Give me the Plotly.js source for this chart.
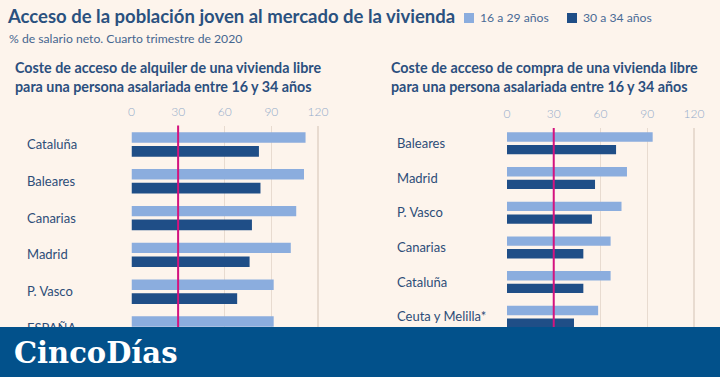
<!DOCTYPE html>
<html>
<head>
<meta charset="utf-8">
<script src="https://cdn.plot.ly/plotly-3.0.1.min.js"></script>
<style>
html,body{margin:0;padding:0;background:#fdf4ec;}
#chart{width:720px;height:377px;}
</style>
</head>
<body>
<div id="chart"></div>
<script>
// ---- Data ----
const seriesNames = ['16 a 29 años', '30 a 34 años'];
const tickVals = [0, 30, 60, 90, 120];
const refLine = 30;

const catsAlquiler = ['Cataluña', 'Baleares', 'Canarias', 'Madrid', 'P. Vasco', 'ESPAÑA'];
const alquiler1629 = [112, 111, 106, 102.5, 91.5, 91.5];
const alquiler3034 = [82, 83, 77.5, 76, 68, null];

const catsCompra = ['Baleares', 'Madrid', 'P. Vasco', 'Canarias', 'Cataluña', 'Ceuta y Melilla*'];
const compra1629 = [93.5, 77, 73.5, 66.5, 66.5, 58.5];
const compra3034 = [70, 56.5, 54.5, 49, 49, 43];

// ---- Styles ----
const W = 720, H = 377;
const cLight = '#8badde', cDark = '#1f4e87', cRef = '#d4137f';
const seriesColors = [cLight, cDark];
const bg = '#fdf4ec', grid = '#e8dbd0';
const fontFam = 'Lato, "Open Sans", sans-serif';
const px = v => v / W, py = v => 1 - v / H;

const traces = [
  {type:'bar', orientation:'h', name:seriesNames[0], y:catsAlquiler, x:alquiler1629, xaxis:'x', yaxis:'y',
   marker:{color:cLight}, offset:-0.3315, width:0.283, showlegend:false, hoverinfo:'x+y'},
  {type:'bar', orientation:'h', name:seriesNames[1], y:catsAlquiler, x:alquiler3034, xaxis:'x', yaxis:'y',
   marker:{color:cDark}, offset:0.041, width:0.29, showlegend:false, hoverinfo:'x+y'},
  {type:'bar', orientation:'h', name:seriesNames[0], y:catsCompra, x:compra1629, xaxis:'x2', yaxis:'y2',
   marker:{color:cLight}, offset:-0.317, width:0.271, showlegend:false, hoverinfo:'x+y'},
  {type:'bar', orientation:'h', name:seriesNames[1], y:catsCompra, x:compra3034, xaxis:'x2', yaxis:'y2',
   marker:{color:cDark}, offset:0.049, width:0.268, showlegend:false, hoverinfo:'x+y'}
];

const xCommon = {
  side:'top', range:[0,125], tickvals:tickVals, showgrid:true, gridcolor:grid, gridwidth:1.3,
  zeroline:false, showline:false, ticks:'', fixedrange:true,
  tickfont:{family:fontFam, size:12, color:'#93abca', weight:300}, ticklabelstandoff:7
};
const yCommon = {
  type:'category', showgrid:false, zeroline:false, showline:false, ticks:'', anchor:'free', side:'right',
  tickfont:{family:fontFam, size:13, color:'#2d4d78'}, fixedrange:true, ticklabelstandoff:0
};

// manual legend (squares + labels) built from series arrays
const legendX = [464, 567];
const legendShapes = seriesNames.map((n, i) => ({
  type:'rect', xref:'paper', yref:'paper', x0:px(legendX[i]), x1:px(legendX[i] + 10),
  y0:py(23), y1:py(13), fillcolor:seriesColors[i], line:{width:0}
}));
const legendAnns = seriesNames.map((n, i) => ({
  text:n, xref:'paper', yref:'paper', x:px(legendX[i] + 14), y:py(18), xanchor:'left', yanchor:'middle',
  showarrow:false, font:{family:fontFam, size:12.2, color:'#4a6b96'}
}));

const layout = {
  width:W, height:H, margin:{l:0,r:0,t:0,b:0},
  paper_bgcolor:bg, plot_bgcolor:'rgba(0,0,0,0)',
  barmode:'overlay', showlegend:false,
  title:{text:'Acceso de la población joven al mercado de la vivienda', x:px(8), xanchor:'left', xref:'paper',
         y:py(17), yanchor:'middle', yref:'paper',
         font:{family:fontFam, size:18.5, color:'#2a517f', weight:700}},
  xaxis:Object.assign({}, xCommon, {domain:[px(131.5), px(325.75)], anchor:'y'}),
  yaxis:Object.assign({}, yCommon, {domain:[0, py(126)], range:[6.318, -0.503],
         categoryorder:'array', categoryarray:catsAlquiler, position:px(26)}),
  xaxis2:Object.assign({}, xCommon, {domain:[px(507), px(701.75)], anchor:'y2'}),
  yaxis2:Object.assign({}, yCommon, {domain:[0, py(128)], range:[6.735, -0.441],
         categoryorder:'array', categoryarray:catsCompra, position:px(396)}),
  shapes:[
    {type:'line', xref:'x', yref:'paper', x0:refLine, x1:refLine, y0:0, y1:py(125.5), line:{color:cRef, width:2}, layer:'above'},
    {type:'line', xref:'x2', yref:'paper', x0:refLine, x1:refLine, y0:0, y1:py(128), line:{color:cRef, width:2}, layer:'above'},
    {type:'rect', xref:'paper', yref:'paper', x0:0, x1:1, y0:0, y1:py(327), fillcolor:'#02518b', line:{width:0}, layer:'above'}
  ].concat(legendShapes),
  annotations:[
    {text:'% de salario neto. Cuarto trimestre de 2020', xref:'paper', yref:'paper', x:px(7), y:py(39),
     xanchor:'left', yanchor:'middle', showarrow:false, font:{family:fontFam, size:12.2, color:'#46668f'}},
    {text:'Coste de acceso de alquiler de una vivienda libre<br>para una persona asalariada entre 16 y 34 años',
     xref:'paper', yref:'paper', x:px(13), y:py(57), xanchor:'left', yanchor:'top', align:'left', showarrow:false,
     font:{family:fontFam, size:14.3, color:'#2b4f7e', weight:700}},
    {text:'Coste de acceso de compra de una vivienda libre<br>para una persona asalariada entre 16 y 34 años',
     xref:'paper', yref:'paper', x:px(389), y:py(57), xanchor:'left', yanchor:'top', align:'left', showarrow:false,
     font:{family:fontFam, size:14.3, color:'#2b4f7e', weight:700}},
    {text:'CincoDías', xref:'paper', yref:'paper', x:px(12), y:py(352.5), xanchor:'left', yanchor:'middle',
     showarrow:false, font:{family:'"DejaVu Serif", serif', size:29, color:'#ffffff', weight:700}}
  ].concat(legendAnns)
};

Plotly.newPlot('chart', traces, layout, {displayModeBar:false, staticPlot:true});
</script>
</body>
</html>
